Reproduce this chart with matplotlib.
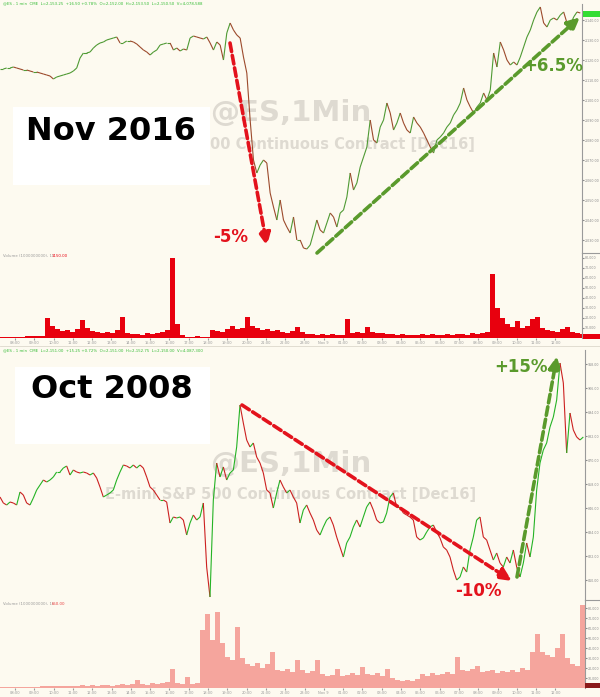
import numpy as np
import matplotlib
matplotlib.use("Agg")
import matplotlib.pyplot as plt
from matplotlib.collections import LineCollection
from matplotlib.patches import Rectangle

W, H = 600, 697
BG = "#fdfaf0"

# ---- Nov 2016 panel: ES 1-min closes (sampled) ----
NOV_PRICE = [
    2115.5, 2115.5, 2116, 2116, 2116.5, 2116, 2115.5, 2115, 2115, 2114.5,
    2114, 2114, 2113.5, 2113, 2112.5, 2112, 2110.5, 2111.5, 2112, 2112.5,
    2113, 2113.5, 2114.5, 2116,
    2121, 2123.5, 2123.5, 2124, 2126, 2127.5, 2128.5, 2129, 2130, 2130.5,
    2131, 2131.5, 2128.5, 2128.5, 2129.5, 2129.5, 2129, 2128, 2126.5, 2125,
    2124, 2122.5, 2124, 2125, 2127.5, 2128, 2128.5, 2128.5, 2125, 2126,
    2124.5, 2125.5, 2125, 2131, 2132, 2131.5, 2131, 2130.5, 2131.5, 2128.5,
    2125, 2129, 2127.5, 2120, 2133.5, 2138.5, 2135, 2132.5, 2131, 2121.5,
    2113.5, 2090, 2070, 2063.5, 2067.5, 2070, 2068.5, 2053.5, 2046.5, 2040,
    2050, 2040, 2036.5, 2033.5, 2041.5, 2030,
    2030, 2026, 2025.5, 2027.5, 2033.5, 2040, 2035, 2033.5, 2038.5, 2043.5,
    2041.5, 2036.5, 2043.5, 2045, 2051.5, 2063.5, 2055, 2058.5, 2066.5, 2071.5,
    2076.5, 2090, 2080, 2078.5, 2086.5, 2090, 2098.5, 2093.5, 2085, 2088.5,
    2093.5, 2088.5, 2085, 2083.5, 2091.5, 2088.5, 2086.5, 2083.5, 2080, 2076.5,
    2073.5, 2080, 2081.5, 2083.5, 2086.5, 2088.5, 2092.5, 2095, 2098.5, 2106,
    2100, 2096.5, 2093.5, 2096.5, 2098.5, 2103.5, 2100, 2105, 2123.5, 2116.5,
    2129, 2125, 2120, 2117.5, 2119, 2117.5, 2121.5, 2126.5, 2131.5, 2135,
    2140, 2144, 2146.5, 2138.5, 2136.5, 2140, 2141, 2140, 2142.5, 2144,
    2138.5, 2137.5, 2141.5, 2144, 2143.5,
]
NOV_VOLUME = [
    1, 1, 1, 1, 1, 2, 2, 2, 2, 20, 12, 9, 7, 8, 6, 9, 18, 10, 7, 6,
    5, 6, 5, 8, 21, 5, 4, 4, 3, 5, 4, 5, 6, 8, 80, 14, 3, 1, 1, 2,
    1, 1, 8, 7, 6, 9, 12, 9, 10, 21, 12, 10, 8, 9, 7, 8, 6, 5, 7, 11,
    6, 4, 4, 3, 4, 3, 4, 3, 3, 19, 5, 6, 5, 11, 6, 5, 5, 4, 4, 3,
    4, 3, 3, 3, 4, 3, 4, 3, 3, 4, 3, 4, 4, 3, 5, 4, 5, 6, 64, 30,
    20, 14, 11, 17, 10, 12, 19, 21, 10, 8, 7, 6, 9, 11, 6, 5, 4,
]

# ---- Oct 2008 panel ----
OCT_PRICE = [
    851.5, 848.5, 847.5, 849, 848.5, 847.5, 854, 852.5, 848.5, 847.5,
    851, 855, 857.5, 860, 859, 860, 861.5, 864, 864, 866,
    867, 862.5, 865, 864, 863.5, 864, 863.5, 862.5, 863.5, 861,
    856.5, 851.5, 852.5, 853.5, 855, 860, 864, 867.5, 867, 866,
    867.5, 866, 867.5, 866, 861.5, 856.5, 855, 852.5, 850, 850,
    849, 838.5, 841.5, 841, 841.5, 840, 832.5, 838.5, 842.5, 840,
    841.5, 848.5, 816.5, 801.5, 850, 868.5, 861.5, 866.5, 860, 863.5,
    865, 876.5, 897.5, 888.5, 880, 876.5, 878.5, 871.5, 868.5, 863.5,
    855, 853.5, 846, 853.5, 860, 856.5, 853.5, 855, 851.5, 848.5,
    838.5, 845, 847.5, 843.5, 840, 835, 832.5, 836.5, 840, 841.5,
    837.5, 831.5, 826.5, 821.5, 828.5, 831.5, 836.5, 840, 836.5, 841.5,
    846.5, 849, 845, 840, 838.5, 839, 843.5, 851.5, 853.5, 846.5,
    846.5, 843.5, 842.5, 841.5, 840, 831.5, 830, 831, 834, 836.5,
    837.5, 834, 831, 826.5, 825, 821.5, 815, 810, 811.5, 816.5,
    814, 825, 831.5, 840, 841.5, 831.5, 830, 825, 820, 823.5,
    818.5, 816.5, 821.5, 818.5, 825, 816.5, 811.5, 818.5, 828.5, 821.5,
    831.5, 855, 868.5, 875, 878.5, 886.5, 891.5, 900, 918.5, 908.5,
    873.5, 893.5, 885, 881.5, 880, 881.5,
]
OCT_VOLUME = [
    1, 1, 1, 1, 1, 1, 1, 1, 2, 2, 2, 2, 2, 2, 2, 2, 3, 2, 3, 2,
    3, 3, 2, 3, 4, 3, 4, 8, 4, 3, 5, 4, 5, 6, 19, 5, 4, 11, 4, 5,
    58, 74, 48, 76, 45, 31, 28, 61, 30, 24, 22, 25, 20, 24, 36, 18, 17, 19, 16, 28,
    18, 15, 17, 28, 14, 12, 13, 19, 12, 13, 15, 13, 21, 14, 13, 15, 12, 19, 10, 8,
    7, 8, 7, 9, 14, 12, 15, 13, 14, 16, 14, 31, 18, 17, 19, 22, 16, 17, 18, 15,
    17, 16, 18, 16, 20, 18, 36, 54, 36, 33, 31, 40, 54, 30, 24, 22, 83,
]

TIME_LABELS = ["08:00", "09:00", "10:00", "11:00", "12:00", "13:00", "14:00",
               "15:00", "16:00", "17:00", "18:00", "19:00", "20:00", "21:00",
               "22:00", "23:00", "Nov 9", "01:00", "02:00", "03:00", "04:00",
               "05:00", "06:00", "07:00", "08:00", "09:00", "10:00", "11:00",
               "12:00"]


def px_axes(fig, x0, y0, x1, y1, z=1):
    ax = fig.add_axes([x0 / W, 1 - y1 / H, (x1 - x0) / W, (y1 - y0) / H])
    ax.set_zorder(z)
    ax.patch.set_alpha(0)
    return ax


def style_right(ax, labelsize=2.3):
    for s in ("left", "top", "bottom"):
        ax.spines[s].set_visible(False)
    ax.spines["right"].set_color("#9a9a9a")
    ax.spines["right"].set_linewidth(0.8)
    ax.yaxis.tick_right()
    ax.tick_params(axis="y", labelsize=labelsize, colors="#8a8a8a", length=1.5, pad=0.5)
    ax.tick_params(axis="x", bottom=False, labelbottom=False)


def price_line(ax, vals, up, down):
    y = np.asarray(vals, dtype=float)
    x = np.arange(len(y))
    pts = np.column_stack([x, y])
    segs = np.stack([pts[:-1], pts[1:]], axis=1)
    cols = [up if b >= a else down for a, b in zip(y[:-1], y[1:])]
    ax.add_collection(LineCollection(segs, colors=cols, linewidths=0.8))


def volume_bars(ax, vals, color):
    x = np.arange(len(vals)) + 0.5
    ax.bar(x, vals, width=0.85, color=color, linewidth=0)


def time_axis(ax):
    pos = (15 + 19.3 * np.arange(len(TIME_LABELS))) / 5.0
    ax.set_xticks(pos)
    ax.set_xticklabels(TIME_LABELS)
    ax.tick_params(axis="x", bottom=True, labelbottom=True, labelsize=2.6,
                   colors="#9a9a9a", length=1.5, pad=1)


def dashed_arrow(ax, start, end, color):
    ax.annotate("", xy=end, xytext=start,
                arrowprops=dict(arrowstyle="-|>,head_length=0.75,head_width=0.35",
                                color=color, lw=2.6, linestyle=(0, (2.4, 1.1)),
                                shrinkA=0, shrinkB=0))


fig = plt.figure(figsize=(W / 100, H / 100), dpi=100, facecolor=BG)

# background overlay: watermarks + title boxes
bg = fig.add_axes([0, 0, 1, 1])
bg.set_zorder(0)
bg.set_xlim(0, W)
bg.set_ylim(H, 0)
bg.axis("off")
bg.patch.set_alpha(0)

wm = "#dedad1"
bg.text(291, 113, "@ES,1Min", ha="center", va="center", fontsize=21,
        weight="bold", color=wm)
# the title box hides the start of the subtitle in the top panel
bg.text(475, 145, "00 Continuous Contract [Dec16]", ha="right",
        va="center", fontsize=10.5, weight="bold", color=wm)
bg.text(291, 464, "@ES,1Min", ha="center", va="center", fontsize=21,
        weight="bold", color=wm)
bg.text(291, 495, "E-mini S&P 500 Continuous Contract [Dec16]", ha="center",
        va="center", fontsize=10.5, weight="bold", color=wm)

bg.add_patch(Rectangle((13, 107), 197, 78, facecolor="white", edgecolor="none"))
bg.add_patch(Rectangle((15, 367), 195, 77, facecolor="white", edgecolor="none"))
bg.text(111, 131, "Nov 2016", ha="center", va="center", fontsize=23,
        weight="bold", color="black")
bg.text(112, 389, "Oct 2008", ha="center", va="center", fontsize=23,
        weight="bold", color="black")

# ---- top price ----
ax1 = px_axes(fig, 0, 4, 582, 253)
price_line(ax1, NOV_PRICE, "#4f9a34", "#9c4a2c")
ax1.set_xlim(0, len(NOV_PRICE) - 1 + 0.5)
ax1.set_ylim(2150 - 253 / 2, 2150 - 4 / 2)
ax1.set_yticks(np.arange(2030, 2150, 10))
ax1.set_yticklabels([f"{v:,.2f}" for v in np.arange(2030, 2150, 10)])
style_right(ax1)

# ---- top volume ----
ax2 = px_axes(fig, 0, 253, 582, 338)
volume_bars(ax2, NOV_VOLUME, "#e8000e")
ax2.set_xlim(0, 582 / 5)
ax2.set_ylim(0, 85)
ax2.set_yticks(np.arange(10, 85, 10))
ax2.set_yticklabels([f"{v * 1000:,}" for v in range(10, 85, 10)])
style_right(ax2)
time_axis(ax2)

# ---- bottom price ----
ax3 = px_axes(fig, 0, 350, 585, 600)
price_line(ax3, OCT_PRICE, "#25b325", "#cc2020")
ax3.set_xlim(0, 585 * 0.3)
ax3.set_ylim(800, 925)
ax3.set_yticks(np.arange(810, 925, 12))
ax3.set_yticklabels([f"{v:,.2f}" for v in np.arange(810, 925, 12)])
style_right(ax3)

# ---- bottom volume ----
ax4 = px_axes(fig, 0, 600, 585, 688)
volume_bars(ax4, OCT_VOLUME, "#f5a59d")
ax4.set_xlim(0, 585 / 5)
ax4.set_ylim(0, 88)
ax4.set_yticks(np.arange(10, 88, 10))
ax4.set_yticklabels([f"{v * 1000:,}" for v in range(10, 88, 10)])
style_right(ax4)
time_axis(ax4)

# foreground overlay: headers, arrows, percentage labels
fg = fig.add_axes([0, 0, 1, 1])
fg.set_zorder(5)
fg.set_xlim(0, W)
fg.set_ylim(H, 0)
fg.axis("off")
fg.patch.set_alpha(0)

fg.text(3, 3, "@ES - 1 min  CME  L=2,153.25  +16.50 +0.78%  O=2,152.00  H=2,153.50  L=2,150.50  V=4,078,588",
        fontsize=2.8, color="#33bb33", va="center")
fg.text(3, 350, "@ES - 1 min  CME  L=2,151.00  +15.25 +0.72%  O=2,151.00  H=2,152.75  L=2,150.00  V=4,087,300",
        fontsize=2.8, color="#33bb33", va="center")
fg.text(3, 256, "Volume (1000000000), 1)", fontsize=2.8, color="#999999", va="center")
fg.text(52, 256, "1150.00", fontsize=2.8, color="#e8000e", va="center")
fg.text(3, 604, "Volume (1000000000), 1)", fontsize=2.8, color="#999999", va="center")
fg.text(52, 604, "650.00", fontsize=2.8, color="#e84040", va="center")

fg.add_patch(Rectangle((583, 11), 17, 6, facecolor="#33dd33", edgecolor="none"))
fg.add_patch(Rectangle((583, 334), 17, 5, facecolor="#e8000e", edgecolor="none"))
fg.add_patch(Rectangle((585, 683), 15, 5, facecolor="#8a1a1a", edgecolor="none"))
fg.plot([582, 600], [253, 253], color="#9a9a9a", lw=0.8)
fg.plot([585, 600], [600, 600], color="#9a9a9a", lw=0.8)
fg.plot([0, 600], [346, 346], color="#dcd8cc", lw=0.6)

red = "#e3121c"
green = "#5a9a2c"
dashed_arrow(fg, (230, 43), (267, 246), red)
dashed_arrow(fg, (317, 253), (580, 17), green)
dashed_arrow(fg, (242, 405), (512, 581), red)
dashed_arrow(fg, (517, 577), (557, 356), green)

fg.text(231, 237, "-5%", ha="center", va="center", fontsize=12, weight="bold", color=red)
fg.text(553, 66, "+6.5%", ha="center", va="center", fontsize=12, weight="bold", color=green)
fg.text(478, 591, "-10%", ha="center", va="center", fontsize=12, weight="bold", color=red)
fg.text(521, 367, "+15%", ha="center", va="center", fontsize=12, weight="bold", color=green)

fig.savefig("out.png", dpi=100, facecolor=BG)
